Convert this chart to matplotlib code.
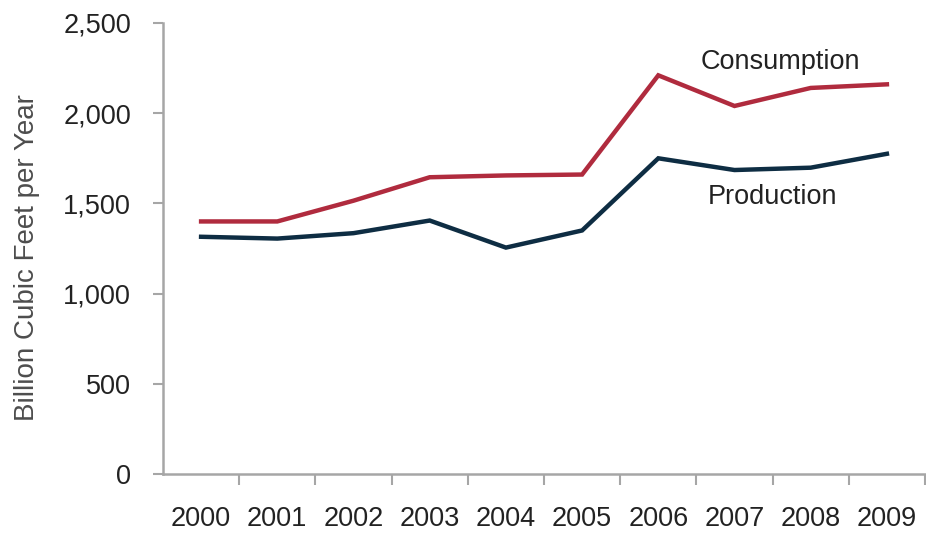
import matplotlib
matplotlib.use("Agg")
import matplotlib.pyplot as plt
from matplotlib.ticker import FuncFormatter, FixedLocator

plt.rcParams['font.family'] = ['Liberation Sans', 'DejaVu Sans']

years = ['2000', '2001', '2002', '2003', '2004', '2005', '2006', '2007', '2008', '2009']
consumption = [1400, 1400, 1515, 1645, 1655, 1660, 2210, 2040, 2140, 2160]
production = [1315, 1305, 1335, 1405, 1255, 1350, 1750, 1685, 1698, 1775]

cons_color = '#B02B3E'
prod_color = '#0E2D43'
axis_color = '#A6A6A6'
text_color = '#222222'

fig = plt.figure(figsize=(9.26, 5.33), dpi=100)
ax = fig.add_axes([163 / 926, 59 / 533, 762 / 926, 451 / 533])

x = range(len(years))
ax.plot(x, consumption, color=cons_color, lw=3.2, solid_joinstyle='miter')
ax.plot(x, production, color=prod_color, lw=3.2, solid_joinstyle='miter')

ax.set_xlim(-0.5, len(years) - 0.5)
ax.set_ylim(0, 2500)

ax.set_yticks(range(0, 2501, 500))
ax.yaxis.set_major_formatter(FuncFormatter(lambda v, p: f'{int(v):,}'))

# category labels centred, tick marks on category boundaries
ax.set_xticks(list(x))
ax.set_xticklabels(years)
ax.xaxis.set_minor_locator(FixedLocator([i + 0.5 for i in x]))
ax.tick_params(axis='x', which='major', length=0, pad=23, labelsize=19.5, labelcolor=text_color)
ax.tick_params(axis='x', which='minor', length=8, width=1.5, color=axis_color)
ax.tick_params(axis='y', length=7, width=1.5, color=axis_color, pad=16,
               labelsize=19.5, labelcolor=text_color)

for side in ['top', 'right']:
    ax.spines[side].set_visible(False)
for side in ['left', 'bottom']:
    ax.spines[side].set_color(axis_color)
    ax.spines[side].set_linewidth(1.8)

ax.set_ylabel('Billion Cubic Feet per Year', fontsize=20, color='#4D4D4D')
ax.yaxis.set_label_coords(-(163 - 40) / 762, (474 - 258) / 451)

ax.text(7.6, 2285, 'Consumption', fontsize=19.5, color=text_color, ha='center', va='center')
ax.text(7.5, 1535, 'Production', fontsize=19.5, color=text_color, ha='center', va='center')

fig.savefig('out.png', dpi=100)
